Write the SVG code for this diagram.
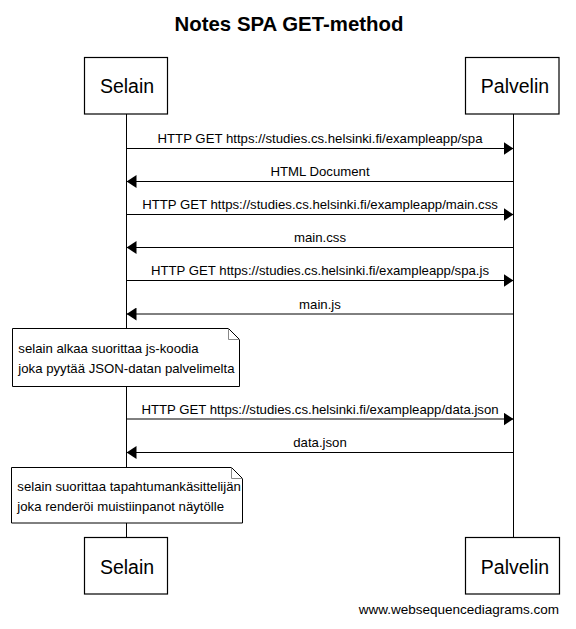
<svg xmlns="http://www.w3.org/2000/svg" width="576" height="629" viewBox="0 0 576 629">
<style>
  text { font-family: "Liberation Sans", Arial, sans-serif; fill: #000; }
  .title { font-size: 20.4px; font-weight: bold; text-anchor: middle; }
  .actor rect { fill: #fff; stroke: #000; stroke-width: 1.2; }
  .actor text { font-size: 19.5px; text-anchor: middle; }
  .life { stroke: #000; stroke-width: 1; }
  .msg line { stroke: #000; stroke-width: 1; }
  .msg text { font-size: 13.2px; text-anchor: middle; }
  .note path.body { fill: #fff; stroke: #000; stroke-width: 1; }
  .note path.fold { fill: none; stroke: #888; stroke-width: 1; }
  .note text { font-size: 13.2px; }
  .foot { font-size: 13.5px; text-anchor: end; }
</style>
<defs>
  <marker id="ah" viewBox="0 0 10 13" refX="10" refY="6.5" markerWidth="10" markerHeight="13" markerUnits="userSpaceOnUse" orient="auto">
    <path d="M0,0 L10,6.5 L0,13 Z" fill="#000"/>
  </marker>
</defs>
<rect width="576" height="629" fill="#fff"/>
<text class="title" x="289" y="31">Notes SPA GET-method</text>

<g id="lifelines">
  <line class="life" x1="126.5" y1="114" x2="126.5" y2="537"/>
  <line class="life" x1="513.5" y1="114" x2="513.5" y2="537"/>
</g>

<g id="selain-top" class="actor">
  <rect x="84.5" y="57.5" width="83" height="56.5"/>
  <text x="127" y="93.3">Selain</text>
</g>
<g id="palvelin-top" class="actor">
  <rect x="465.5" y="57.5" width="93.5" height="56.5"/>
  <text x="515" y="93.3">Palvelin</text>
</g>

<g id="connectors" class="msg">
  <line x1="126.5" y1="148.5" x2="513.5" y2="148.5" marker-end="url(#ah)"/>
  <text x="320" y="143.3">HTTP GET https://studies.cs.helsinki.fi/exampleapp/spa</text>
  <line x1="513.5" y1="181.5" x2="126.5" y2="181.5" marker-end="url(#ah)"/>
  <text x="320" y="176.3">HTML Document</text>
  <line x1="126.5" y1="214.5" x2="513.5" y2="214.5" marker-end="url(#ah)"/>
  <text x="320" y="209.3">HTTP GET https://studies.cs.helsinki.fi/exampleapp/main.css</text>
  <line x1="513.5" y1="247.5" x2="126.5" y2="247.5" marker-end="url(#ah)"/>
  <text x="320" y="242.3">main.css</text>
  <line x1="126.5" y1="280.5" x2="513.5" y2="280.5" marker-end="url(#ah)"/>
  <text x="320" y="275.3">HTTP GET https://studies.cs.helsinki.fi/exampleapp/spa.js</text>
  <line x1="513.5" y1="314" x2="126.5" y2="314" marker-end="url(#ah)"/>
  <text x="320" y="309.3">main.js</text>
  <line x1="126.5" y1="419" x2="513.5" y2="419" marker-end="url(#ah)"/>
  <text x="320" y="414">HTTP GET https://studies.cs.helsinki.fi/exampleapp/data.json</text>
  <line x1="513.5" y1="452.5" x2="126.5" y2="452.5" marker-end="url(#ah)"/>
  <text x="320" y="447.3">data.json</text>
</g>

<g id="note1" class="note">
  <path class="body" d="M12.5,328.5 H228.5 L239.5,339.5 V386.5 H12.5 Z"/>
  <path class="fold" d="M228.5,328.5 V339.5 H239.5"/>
  <text x="18.3" y="353">selain alkaa suorittaa js-koodia</text>
  <text x="18.3" y="373">joka pyytää JSON-datan palvelimelta</text>
</g>

<g id="note2" class="note">
  <path class="body" d="M11.5,467.5 H231.5 L242.5,478.5 V523 H11.5 Z"/>
  <path class="fold" d="M231.5,467.5 V478.5 H242.5"/>
  <text x="17.3" y="491">selain suorittaa tapahtumankäsittelijän</text>
  <text x="17.3" y="511">joka renderöi muistiinpanot näytölle</text>
</g>

<g id="selain-bottom" class="actor">
  <rect x="84.5" y="537.5" width="83" height="56.5"/>
  <text x="127" y="573.5">Selain</text>
</g>
<g id="palvelin-bottom" class="actor">
  <rect x="465.5" y="537.5" width="94" height="56.5"/>
  <text x="515" y="573.5">Palvelin</text>
</g>

<text class="foot" x="559" y="614">www.websequencediagrams.com</text>
</svg>
